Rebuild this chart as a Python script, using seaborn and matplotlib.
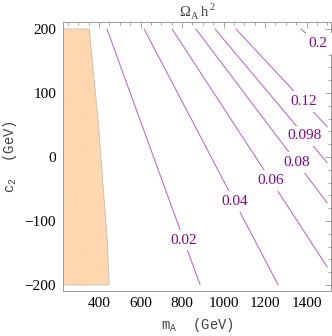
import pandas as pd
import matplotlib
matplotlib.use('Agg')
import matplotlib.pyplot as plt
import seaborn as sns
from matplotlib.ticker import MultipleLocator

# contour levels and their line end points (m_A, c2)
levels = ['0.02', '0.04', '0.06', '0.08', '0.098', '0.12', '0.2']
m_start = [438, 617, 752, 867, 959, 1060, 1373]
c2_start = [200, 200, 200, 200, 200, 200, 200]
m_end = [887, 1263, 1500, 1500, 1500, 1500, 1500]
c2_end = [-200, -200, -172, -72, -9, 47, 165]

# label heights (c2) along each contour
label_c2 = [-130, -70, -37, -9, 33, 87, 177]

# excluded region (orange)
region_m = [226, 352, 395, 439, 448, 226]
region_c2 = [200, 200, 58, -130, -200, -200]

rows = []
for lev, m0, y0, m1, y1 in zip(levels, m_start, c2_start, m_end, c2_end):
    rows.append({'level': lev, 'm': m0, 'c2': y0})
    rows.append({'level': lev, 'm': m1, 'c2': y1})
df = pd.DataFrame(rows)

sns.set_theme(style='white')
plt.rcParams['font.family'] = ['Liberation Serif', 'DejaVu Serif']
plt.rcParams['mathtext.fontset'] = 'custom'
plt.rcParams['mathtext.rm'] = 'Liberation Serif'
plt.rcParams['mathtext.tt'] = 'Liberation Mono'
plt.rcParams['hatch.linewidth'] = 0.4

fig = plt.figure(figsize=(3.32, 3.36), dpi=100)
ax = fig.add_axes([63 / 332, 45 / 336, 268 / 332, 269 / 336])

ax.fill(region_m, region_c2, facecolor='#FFD8B0', edgecolor='#F8CFA4',
        hatch='x', lw=0, zorder=1)
ax.fill(region_m, region_c2, facecolor='none', edgecolor='#CDBFB2',
        lw=0.7, zorder=2)

sns.lineplot(data=df, x='m', y='c2', units='level', estimator=None,
             sort=False, color='#B868CC', lw=0.75, ax=ax, zorder=3)

for lev, m0, y0, m1, y1, yl in zip(levels, m_start, c2_start, m_end, c2_end, label_c2):
    ml = m0 + (m1 - m0) * (y0 - yl) / (y0 - y1)
    ax.text(ml, yl, lev, color='#87048C', fontsize=11, ha='center', va='center',
            zorder=4, bbox=dict(boxstyle='square,pad=0.25', fc='white', ec='none'))

ax.set_xlim(226, 1518)
ax.set_ylim(-209.5, 211)
ax.xaxis.set_major_locator(MultipleLocator(200))
ax.xaxis.set_minor_locator(MultipleLocator(50))
ax.yaxis.set_major_locator(MultipleLocator(100))
ax.yaxis.set_minor_locator(MultipleLocator(20))
ax.tick_params(which='both', direction='in', top=True, right=True,
               color='#9A9A9A', width=0.6, labelsize=11, labelcolor='black')
ax.tick_params(which='major', length=4)
ax.tick_params(which='minor', length=2)
ax.tick_params(axis='x', pad=4)
ax.tick_params(axis='y', pad=5)
for s in ax.spines.values():
    s.set_color('#9A9A9A')
    s.set_linewidth(0.7)

ax.set_xlabel(r'$\mathtt{m}_{\mathtt{A}}$  (GeV)', family='Liberation Mono',
              fontsize=10, color='#444444', labelpad=5)
ax.set_ylabel(r'$\mathtt{c}_{\mathtt{2}}$  (GeV)', family='Liberation Mono',
              fontsize=10, color='#444444')
ax.yaxis.set_label_coords(-44 / 268, 0.5)
ax.set_title(r'$\Omega_{\mathrm{A}}\,\mathrm{h}^{\,2}$', fontsize=10.5,
             color='#444444', pad=4)

fig.savefig('out.png', dpi=100)
